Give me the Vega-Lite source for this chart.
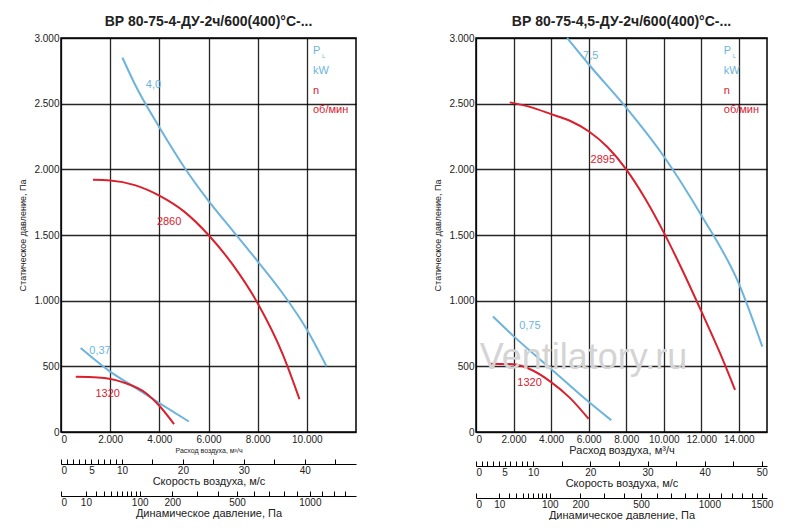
{
  "$schema": "https://vega.github.io/schema/vega-lite/v6.json",
  "background": "white",
  "padding": {"left": 18, "top": 14, "right": 5, "bottom": 0},
  "config": {
    "font": "Liberation Sans",
    "view": {"stroke": "black", "strokeWidth": 1.5},
    "axis": {"labelFont": "Liberation Sans", "titleFont": "Liberation Sans", "labelColor": "#222", "titleColor": "#222", "titleFontWeight": "normal", "labelFontSize": 10, "titleFontSize": 9, "domainColor": "black", "tickColor": "black"},
    "title": {"font": "Liberation Sans", "fontSize": 14, "fontWeight": "bold", "color": "#222"}
  },
  "datasets": {
    "left": [
      {"s": "b1", "c": "blue", "x": 2500, "y": 2850}, {"s": "b1", "c": "blue", "x": 3000, "y": 2650}, {"s": "b1", "c": "blue", "x": 4000, "y": 2320}, {"s": "b1", "c": "blue", "x": 5000, "y": 2020}, {"s": "b1", "c": "blue", "x": 6000, "y": 1760}, {"s": "b1", "c": "blue", "x": 7000, "y": 1530}, {"s": "b1", "c": "blue", "x": 8000, "y": 1300}, {"s": "b1", "c": "blue", "x": 9000, "y": 1060}, {"s": "b1", "c": "blue", "x": 10000, "y": 780}, {"s": "b1", "c": "blue", "x": 10800, "y": 500},
      {"s": "r1", "c": "red", "x": 1300, "y": 1920}, {"s": "r1", "c": "red", "x": 2000, "y": 1915}, {"s": "r1", "c": "red", "x": 3000, "y": 1880}, {"s": "r1", "c": "red", "x": 4000, "y": 1800}, {"s": "r1", "c": "red", "x": 5000, "y": 1680}, {"s": "r1", "c": "red", "x": 6000, "y": 1500}, {"s": "r1", "c": "red", "x": 7000, "y": 1270}, {"s": "r1", "c": "red", "x": 8000, "y": 980}, {"s": "r1", "c": "red", "x": 9000, "y": 600}, {"s": "r1", "c": "red", "x": 9700, "y": 250},
      {"s": "b2", "c": "blue", "x": 800, "y": 640}, {"s": "b2", "c": "blue", "x": 2000, "y": 460}, {"s": "b2", "c": "blue", "x": 3000, "y": 340}, {"s": "b2", "c": "blue", "x": 4000, "y": 220}, {"s": "b2", "c": "blue", "x": 5200, "y": 80},
      {"s": "r2", "c": "red", "x": 600, "y": 420}, {"s": "r2", "c": "red", "x": 1500, "y": 415}, {"s": "r2", "c": "red", "x": 2500, "y": 380}, {"s": "r2", "c": "red", "x": 3500, "y": 290}, {"s": "r2", "c": "red", "x": 4000, "y": 200}, {"s": "r2", "c": "red", "x": 4600, "y": 60}
    ],
    "right": [
      {"s": "b1", "c": "blue", "x": 4850, "y": 3000}, {"s": "b1", "c": "blue", "x": 6000, "y": 2800}, {"s": "b1", "c": "blue", "x": 8000, "y": 2470}, {"s": "b1", "c": "blue", "x": 10000, "y": 2100}, {"s": "b1", "c": "blue", "x": 12000, "y": 1650}, {"s": "b1", "c": "blue", "x": 14000, "y": 1130}, {"s": "b1", "c": "blue", "x": 15250, "y": 650},
      {"s": "r1", "c": "red", "x": 1800, "y": 2510}, {"s": "r1", "c": "red", "x": 3000, "y": 2470}, {"s": "r1", "c": "red", "x": 4000, "y": 2420}, {"s": "r1", "c": "red", "x": 5000, "y": 2370}, {"s": "r1", "c": "red", "x": 6000, "y": 2290}, {"s": "r1", "c": "red", "x": 7000, "y": 2170}, {"s": "r1", "c": "red", "x": 8000, "y": 2000}, {"s": "r1", "c": "red", "x": 9000, "y": 1780}, {"s": "r1", "c": "red", "x": 10000, "y": 1520}, {"s": "r1", "c": "red", "x": 11000, "y": 1230}, {"s": "r1", "c": "red", "x": 12000, "y": 920}, {"s": "r1", "c": "red", "x": 13000, "y": 600}, {"s": "r1", "c": "red", "x": 13800, "y": 320},
      {"s": "b2", "c": "blue", "x": 900, "y": 880}, {"s": "b2", "c": "blue", "x": 2000, "y": 730}, {"s": "b2", "c": "blue", "x": 4000, "y": 480}, {"s": "b2", "c": "blue", "x": 6000, "y": 230}, {"s": "b2", "c": "blue", "x": 7200, "y": 90},
      {"s": "r2", "c": "red", "x": 800, "y": 520}, {"s": "r2", "c": "red", "x": 2000, "y": 515}, {"s": "r2", "c": "red", "x": 3000, "y": 470}, {"s": "r2", "c": "red", "x": 4000, "y": 380}, {"s": "r2", "c": "red", "x": 5000, "y": 260}, {"s": "r2", "c": "red", "x": 6000, "y": 100}
    ],
    "leftLabels": [
      {"t": "4,0", "c": "blue", "x": 3450, "y": 2640}, {"t": "2860", "c": "red", "x": 3900, "y": 1600}, {"t": "0,37", "c": "blue", "x": 1150, "y": 620}, {"t": "1320", "c": "red", "x": 1400, "y": 290},
      {"t": "P", "c": "blue", "x": 10250, "y": 2900}, {"t": "L", "c": "blue", "x": 10620, "y": 2860}, {"t": "kW", "c": "blue", "x": 10250, "y": 2750}, {"t": "n", "c": "red", "x": 10250, "y": 2600}, {"t": "об/мин", "c": "red", "x": 10250, "y": 2450}
    ],
    "rightLabels": [
      {"t": "Ventilatory.ru", "c": "gray", "x": 200, "y": 560},
      {"t": "7,5", "c": "blue", "x": 5700, "y": 2860}, {"t": "2895", "c": "red", "x": 6100, "y": 2070}, {"t": "0,75", "c": "blue", "x": 2300, "y": 810}, {"t": "1320", "c": "red", "x": 2200, "y": 370},
      {"t": "P", "c": "blue", "x": 13200, "y": 2900}, {"t": "L", "c": "blue", "x": 13680, "y": 2860}, {"t": "kW", "c": "blue", "x": 13200, "y": 2750}, {"t": "n", "c": "red", "x": 13200, "y": 2600}, {"t": "об/мин", "c": "red", "x": 13200, "y": 2450}
    ]
  },
  "hconcat": [
    {
      "vconcat": [
        {
          "title": {"text": "ВР 80-75-4-ДУ-2ч/600(400)°С-...", "offset": 4},
          "width": 295, "height": 394,
          "layer": [
            {
              "data": {"name": "left"},
              "mark": {"type": "line", "interpolate": "monotone", "strokeWidth": 2},
              "encoding": {
                "x": {"field": "x", "type": "quantitative", "scale": {"domain": [0, 12000], "nice": false},
                  "axis": {"values": [0, 1000, 2000, 3000, 4000, 5000, 6000, 7000, 8000, 9000, 10000, 11000], "labelExpr": "datum.value % 2000 == 0 ? replace(format(datum.value, ','), ',', '.') : ''", "grid": true, "gridColor": "black", "gridOpacity": 0.85, "gridWidth": 1.3, "ticks": false, "domain": false, "title": "Расход воздуха, м³/ч", "titleFontSize": 7, "titlePadding": 2}},
                "y": {"field": "y", "type": "quantitative", "scale": {"domain": [0, 3000], "nice": false},
                  "axis": {"values": [0, 250, 500, 750, 1000, 1250, 1500, 1750, 2000, 2250, 2500, 2750, 3000], "labelExpr": "datum.value % 500 == 0 ? replace(format(datum.value, ','), ',', '.') : ''", "grid": true, "gridColor": "black", "gridOpacity": 0.85, "gridWidth": 1.3, "ticks": false, "domain": false, "title": "Статическое давление, Па", "titlePadding": 6}},
                "detail": {"field": "s"},
                "color": {"field": "c", "type": "nominal", "scale": {"domain": ["blue", "red", "gray"], "range": ["#6cb4dd", "#d9212e", "#d4d4d4"]}, "legend": null}
              }
            },
            {
              "data": {"name": "leftLabels"},
              "mark": {"type": "text", "align": "left"},
              "encoding": {
                "x": {"field": "x", "type": "quantitative"},
                "y": {"field": "y", "type": "quantitative"},
                "text": {"field": "t"},
                "size": {"condition": {"test": "datum.t == 'L'", "value": 6}, "value": 11},
                "color": {"field": "c", "type": "nominal", "legend": null}
              }
            }
          ]
        },
        {
          "width": 295, "height": 1,
          "view": {"stroke": null},
          "data": {"values": [{"v": 0}]},
          "mark": {"type": "point", "opacity": 0},
          "encoding": {
            "x": {"field": "v", "type": "quantitative", "scale": {"domain": [0, 48.4], "nice": false},
              "axis": {"values": [0, 1, 2, 3, 4, 5, 6, 7, 8, 9, 10, 15, 20, 25, 30, 35, 40, 45], "labelExpr": "indexof([0,5,10,20,30,40], datum.value) >= 0 ? datum.label : ''", "tickSize": -5, "labelPadding": 6, "title": "Скорость воздуха, м/с", "titleFontSize": 11, "titlePadding": 0}}
          }
        },
        {
          "width": 295, "height": 1,
          "view": {"stroke": null},
          "data": {"values": [{"v": 0}]},
          "mark": {"type": "point", "opacity": 0},
          "encoding": {
            "x": {"field": "v", "type": "quantitative", "scale": {"type": "sqrt", "domain": [0, 1405], "nice": false},
              "axis": {"values": [0, 10, 20, 30, 40, 50, 60, 70, 80, 90, 100, 200, 300, 400, 500, 600, 700, 800, 900, 1000, 1100, 1200, 1300], "labelExpr": "indexof([0,10,100,200,500,1000], datum.value) >= 0 ? datum.value : ''", "tickSize": -5, "labelPadding": 6, "title": "Динамическое давление, Па", "titleFontSize": 11, "titlePadding": 0}}
          }
        }
      ],
      "spacing": 4
    },
    {
      "vconcat": [
        {
          "title": {"text": "ВР 80-75-4,5-ДУ-2ч/600(400)°С-...", "offset": 4},
          "width": 291, "height": 394,
          "layer": [
            {
              "data": {"name": "right"},
              "mark": {"type": "line", "interpolate": "monotone", "strokeWidth": 2},
              "encoding": {
                "x": {"field": "x", "type": "quantitative", "scale": {"domain": [0, 15500], "nice": false},
                  "axis": {"values": [0, 1000, 2000, 3000, 4000, 5000, 6000, 7000, 8000, 9000, 10000, 11000, 12000, 13000, 14000, 15000], "labelExpr": "datum.value % 2000 == 0 ? replace(format(datum.value, ','), ',', '.') : ''", "grid": true, "gridColor": "black", "gridOpacity": 0.85, "gridWidth": 1.3, "ticks": false, "domain": false, "title": "Расход воздуха, м³/ч", "titleFontSize": 11, "titlePadding": 0}},
                "y": {"field": "y", "type": "quantitative", "scale": {"domain": [0, 3000], "nice": false},
                  "axis": {"values": [0, 250, 500, 750, 1000, 1250, 1500, 1750, 2000, 2250, 2500, 2750, 3000], "labelExpr": "datum.value % 500 == 0 ? replace(format(datum.value, ','), ',', '.') : ''", "grid": true, "gridColor": "black", "gridOpacity": 0.85, "gridWidth": 1.3, "ticks": false, "domain": false, "title": "Статическое давление, Па", "titlePadding": 6}},
                "detail": {"field": "s"},
                "color": {"field": "c", "type": "nominal", "scale": {"domain": ["blue", "red", "gray"], "range": ["#6cb4dd", "#d9212e", "#d4d4d4"]}, "legend": null}
              }
            },
            {
              "data": {"name": "rightLabels"},
              "mark": {"type": "text", "align": "left"},
              "encoding": {
                "x": {"field": "x", "type": "quantitative"},
                "y": {"field": "y", "type": "quantitative"},
                "text": {"field": "t"},
                "size": {"condition": [{"test": "datum.c == 'gray'", "value": 36}, {"test": "datum.t == 'L'", "value": 6}], "value": 11},
                "color": {"field": "c", "type": "nominal", "legend": null}
              }
            }
          ]
        },
        {
          "width": 291, "height": 1,
          "view": {"stroke": null},
          "data": {"values": [{"v": 0}]},
          "mark": {"type": "point", "opacity": 0},
          "encoding": {
            "x": {"field": "v", "type": "quantitative", "scale": {"domain": [0, 50.9], "nice": false},
              "axis": {"values": [0, 1, 2, 3, 4, 5, 6, 7, 8, 9, 10, 15, 20, 25, 30, 35, 40, 45, 50], "labelExpr": "indexof([0,5,10,20,30,40,50], datum.value) >= 0 ? datum.label : ''", "tickSize": -5, "labelPadding": 6, "title": "Скорость воздуха, м/с", "titleFontSize": 11, "titlePadding": 0}}
          }
        },
        {
          "width": 291, "height": 1,
          "view": {"stroke": null},
          "data": {"values": [{"v": 0}]},
          "mark": {"type": "point", "opacity": 0},
          "encoding": {
            "x": {"field": "v", "type": "quantitative", "scale": {"type": "sqrt", "domain": [0, 1555], "nice": false},
              "axis": {"values": [0, 10, 20, 30, 40, 50, 60, 70, 80, 90, 100, 200, 300, 400, 500, 600, 700, 800, 900, 1000, 1100, 1200, 1300, 1400, 1500], "labelExpr": "indexof([0,10,100,200,500,1000,1500], datum.value) >= 0 ? datum.value : ''", "tickSize": -5, "labelPadding": 6, "title": "Динамическое давление, Па", "titleFontSize": 11, "titlePadding": 0}}
          }
        }
      ],
      "spacing": 4
    }
  ],
  "spacing": 76
}
